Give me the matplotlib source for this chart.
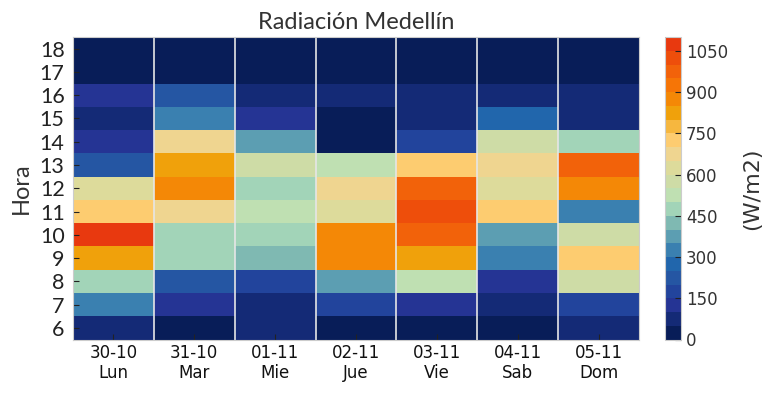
import numpy as np
import matplotlib.pyplot as plt
from matplotlib.colors import ListedColormap, BoundaryNorm

plt.rcParams["font.family"] = "DejaVu Sans"

# Dias de la semana (columnas) y horas (filas)
days = ["30-10\nLun", "31-10\nMar", "01-11\nMie", "02-11\nJue",
        "03-11\nVie", "04-11\nSab", "05-11\nDom"]
hours = list(range(6, 19))

# Radiacion (W/m2) por hora, de 6 a 18
lun = [75, 325, 475, 825, 1070, 725, 625, 225, 125, 75, 125, 10, 10]
mar = [30, 130, 220, 480, 470, 660, 880, 830, 670, 320, 230, 5, 5]
mie = [80, 70, 180, 420, 470, 520, 480, 580, 370, 120, 80, 5, 5]
jue = [30, 170, 380, 880, 870, 620, 680, 530, 20, 20, 70, 5, 5]
vie = [40, 140, 520, 820, 960, 1020, 970, 720, 190, 70, 80, 5, 5]
sab = [20, 60, 130, 320, 380, 730, 630, 660, 570, 270, 80, 5, 5]
dom = [60, 190, 590, 740, 560, 330, 870, 980, 480, 90, 90, 5, 5]

palette = [
    "#081d58", "#142a76", "#253494", "#22449c", "#2556a3", "#2166ac",
    "#3a80b0", "#5c9eb2", "#7fb9b2", "#a2d4b8", "#bfe0b2", "#cedca6",
    "#dddb9b", "#efd590", "#fdcc70", "#f6b73f", "#f0a10b", "#f48806",
    "#f67506", "#f2620a", "#ee4e0b", "#e8390f",
]
cmap = ListedColormap(palette)
norm = BoundaryNorm(np.arange(0, 1101, 50), cmap.N)

values = np.array([lun, mar, mie, jue, vie, sab, dom]).T

fig = plt.figure(figsize=(7.67, 3.95), dpi=100)
ax = fig.add_axes([73 / 767, 1 - 339.5 / 395, (639 - 73) / 767, 302.5 / 395])
cax = fig.add_axes([665 / 767, 1 - 339.5 / 395, 16 / 767, 302.5 / 395])

x_edges = np.arange(len(days) + 1)
y_edges = np.arange(len(hours) + 1)
mesh = ax.pcolormesh(x_edges, y_edges, values, cmap=cmap, norm=norm)

for xb in x_edges[1:-1]:
    ax.axvline(xb, color="#e6e6e6", lw=1.2)

ax.set_xticks(np.arange(len(days)) + 0.5)
ax.set_xticklabels(days, fontsize=12, color="#111111")
ax.set_yticks(np.arange(len(hours)) + 0.5)
ax.set_yticklabels([str(h) for h in hours], fontsize=15.5, family="Lato", color="#222222")
ax.tick_params(direction="in", length=4, color="#222222", pad=3)
ax.tick_params(axis="y", pad=6)
ax.set_ylabel("Hora", fontsize=17, family="Lato", color="#333333", labelpad=6)
ax.set_title("Radiación Medellín", fontsize=17, family="Lato", color="#333333", pad=6)
for sp in ax.spines.values():
    sp.set_color("#cccccc")

cb = fig.colorbar(mesh, cax=cax, ticks=np.arange(0, 1101, 150))
cb.minorticks_off()
cb.ax.tick_params(direction="in", length=4, labelsize=12, color="#222222")
cb.set_label("(W/m2)", fontsize=16, color="#333333", labelpad=10)
cb.outline.set_edgecolor("#cccccc")
for lab in cb.ax.get_yticklabels():
    lab.set_color("#333333")

fig.savefig("out.png", dpi=100)
